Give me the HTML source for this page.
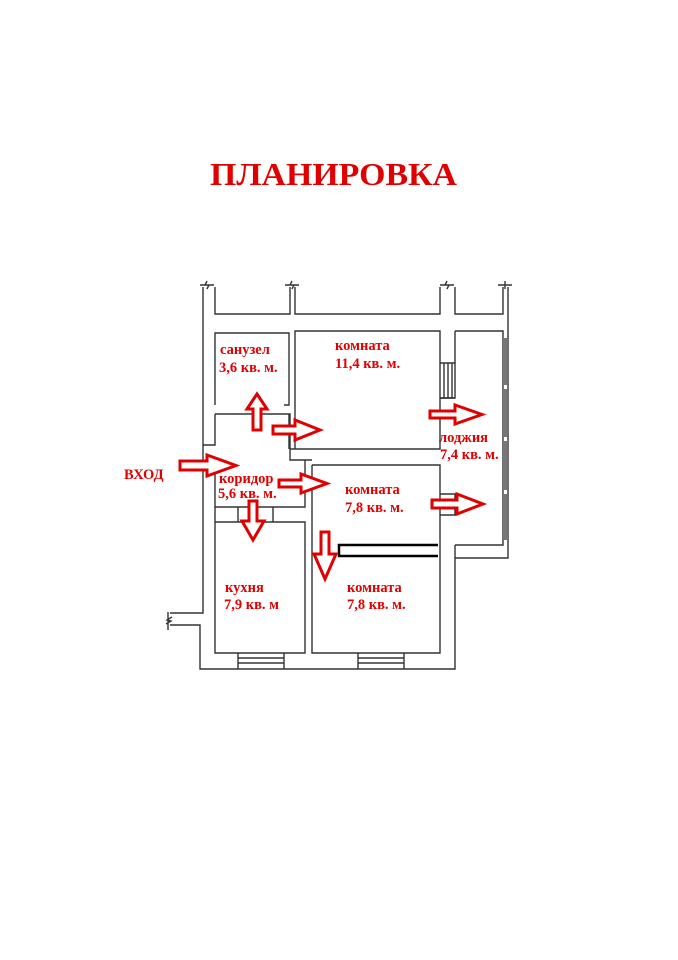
<!DOCTYPE html>
<html><head><meta charset="utf-8"><style>
html,body{margin:0;padding:0;background:#fff;width:678px;height:960px;overflow:hidden}
svg{display:block}
.t{font-family:"Liberation Serif",serif;font-weight:bold;fill:#e00000}
.w{fill:none;stroke:#333;stroke-width:1.4}
.a{fill:#fff;stroke:#e00000;stroke-width:3;stroke-linejoin:miter}
</style></head><body>
<svg width="678" height="960" viewBox="0 0 678 960">
<text class="t" x="210" y="185" font-size="32" textLength="247" lengthAdjust="spacingAndGlyphs">ПЛАНИРОВКА</text>

<g class="w">
<path d="M203,287 V613 H170 M170,625 H200 V669 H455 V558 H508 V287"/>
<path d="M200,285 L214,285 M207,281 l-2,4 4,0 -2,4"/>
<path d="M285,285 L299,285 M292,281 l-2,4 4,0 -2,4"/>
<path d="M440,285 L454,285 M447,281 l-2,4 4,0 -2,4"/>
<path d="M498,285 L512,285 M505,281 v8"/>
<path d="M168,612 v18 M172,617 l-5,3 4,1 -5,3"/>
<path d="M215,287 V314 H290 V287 M295,287 V314 H440 V287 M455,287 V314 H503 V287"/>
<path d="M215,405 V333 H289 V405 H284"/>
<path d="M295,412 V331 H440 V449 H290"/>
<path d="M440,363 H455 V398 H440 M444,363 V398 M448,363 V398 M452,363 V398"/>
<path d="M440,398 H455 M455,331 V363"/>
<path d="M215,414 H290 V460 H312 M215,414 V445 H203 M215,470 V507 H305 V460"/>
<path d="M289,414 V449 M295,412 V449"/>
<path d="M312,465 H440 V653 H312 V465"/>
<path d="M440,494 H455 V515 H440"/>
<path d="M215,522 H305 V653 H215 V507 M238,507 V522 M273,507 V522"/>
<path d="M238,653 V669 M284,653 V669 M238,658 H284 M238,663 H284"/>
<path d="M358,653 V669 M404,653 V669 M358,658 H404 M358,663 H404"/>
<path d="M455,331 H503 V545 H455 M455,545 V558"/>
</g>
<rect x="503" y="338" width="4" height="202" fill="#777"/>
<rect x="504" y="385" width="3" height="4" fill="#fff"/>
<rect x="504" y="437" width="3" height="4" fill="#fff"/>
<rect x="504" y="490" width="3" height="4" fill="#fff"/>
<path d="M438,545 H339 V556 H438" fill="none" stroke="#000" stroke-width="2.5"/>

<g class="a">
<path d="M180,461 h27 v-6 l29,10.5 -29,10.5 v-6 h-27 z"/>
<path d="M273,426 h22 v-6 l25,10 -25,10 v-6 h-22 z"/>
<path d="M279,480 h22 v-6 l26,9.5 -26,9.5 v-6 h-22 z"/>
<path d="M430,411 h25 v-6 l27,9.5 -27,9.5 v-6 h-25 z"/>
<path d="M432,500 h25 v-6 l26,10 -26,10 v-6 h-25 z"/>
<path d="M253,430 v-21 h-6 l10,-15 10,15 h-6 v21 z"/>
<path d="M249,501 v20 h-7 l11,19 11,-19 h-7 v-20 z"/>
<path d="M321,532 v22 h-7 l11,25 11,-25 h-7 v-22 z"/>
</g>

<g class="t" font-size="14.5">
<text x="220" y="354">санузел</text>
<text x="219" y="372">3,6 кв. м.</text>
<text x="335" y="350">комната</text>
<text x="335" y="368">11,4 кв. м.</text>
<text x="439" y="442">лоджия</text>
<text x="440" y="459">7,4 кв. м.</text>
<text x="124" y="479">ВХОД</text>
<text x="219" y="483">коридор</text>
<text x="218" y="498">5,6 кв. м.</text>
<text x="345" y="494">комната</text>
<text x="345" y="512">7,8 кв. м.</text>
<text x="225" y="592">кухня</text>
<text x="224" y="609">7,9 кв. м</text>
<text x="347" y="592">комната</text>
<text x="347" y="609">7,8 кв. м.</text>
</g>
</svg>
</body></html>
